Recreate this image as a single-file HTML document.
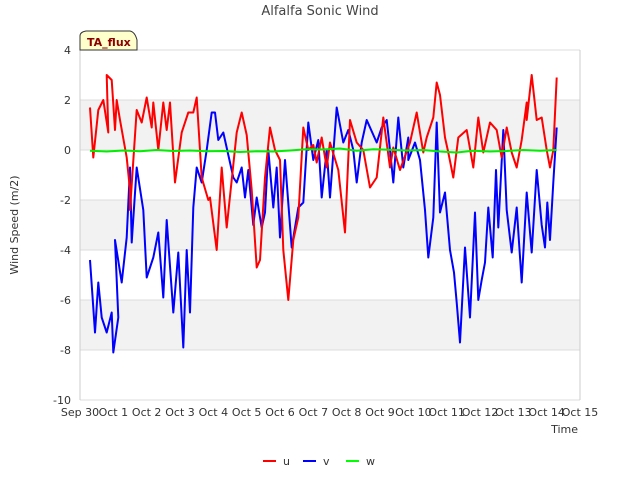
<!DOCTYPE html>
<html><head><meta charset="utf-8"><style>
body{margin:0;background:#fff;font-family:"Liberation Sans","DejaVu Sans",sans-serif}
svg text{font-family:"DejaVu Sans","Liberation Sans",sans-serif}
</style></head><body>
<svg id="c" width="640" height="480" viewBox="0 0 640 480" xmlns="http://www.w3.org/2000/svg">
<rect x="0" y="0" width="640" height="480" fill="#fff"/>
<g id="bands"></g><g id="grid"></g><g id="series"></g><g id="axes"></g>
<text x="320" y="15" text-anchor="middle" font-size="13" fill="#444">Alfalfa Sonic Wind</text>
<text transform="translate(18,225) rotate(-90)" text-anchor="middle" font-size="11" fill="#333">Wind Speed (m/2)</text>
<text x="578" y="433" text-anchor="end" font-size="11" fill="#333">Time</text>
<g>
<path d="M80,50 L80,36 Q80,32 86,31 L130,31 Q135,32 137,40 L137,50 Z" fill="#ffffcc" stroke="#333" stroke-width="1"/>
<text x="87" y="46" font-size="11" font-weight="bold" fill="#8b0000">TA_flux</text>
</g>
<g>
<g><line x1="263" y1="461" x2="276" y2="461" stroke="#f00" stroke-width="2"/><text x="283" y="465" font-size="11" fill="#333">u</text></g>
<g><line x1="303" y1="461" x2="316" y2="461" stroke="#00f" stroke-width="2"/><text x="323" y="465" font-size="11" fill="#333">v</text></g>
<g><line x1="346" y1="461" x2="359" y2="461" stroke="#0f0" stroke-width="2"/><text x="366" y="465" font-size="11" fill="#333">w</text></g>
</g>
</svg>
<script>
const yTicks=[4,2,0,-2,-4,-6,-8,-10];
const xTickLabels=["Sep 30","Oct 1","Oct 2","Oct 3","Oct 4","Oct 5","Oct 6","Oct 7","Oct 8","Oct 9","Oct 10","Oct 11","Oct 12","Oct 13","Oct 14","Oct 15"];
const uDays=[0.3,0.4,0.55,0.7,0.85,0.8,0.95,1.05,1.1,1.2,1.4,1.5,1.5,1.7,1.85,2.0,2.15,2.2,2.35,2.5,2.6,2.7,2.85,3.05,3.25,3.4,3.5,3.65,3.85,3.9,4.1,4.25,4.4,4.7,4.85,5.0,5.15,5.3,5.4,5.55,5.7,5.85,6.0,6.1,6.25,6.4,6.55,6.7,6.85,7.0,7.1,7.25,7.4,7.5,7.75,7.95,8.1,8.3,8.5,8.7,8.9,9.1,9.3,9.4,9.6,9.9,10.1,10.3,10.4,10.6,10.7,10.8,10.95,11.05,11.2,11.35,11.6,11.8,11.95,12.1,12.3,12.5,12.65,12.8,12.95,13.1,13.25,13.4,13.4,13.55,13.7,13.85,14.0,14.1,14.2,14.3];
const uVals=[1.7,-0.3,1.6,2.0,0.7,3.0,2.8,0.8,2.0,1.2,-0.3,-1.6,-2.4,1.6,1.1,2.1,0.9,1.9,0.0,1.9,0.8,1.9,-1.3,0.7,1.5,1.5,2.1,-1.1,-2.0,-1.9,-4.0,-0.7,-3.1,0.7,1.5,0.6,-1.6,-4.7,-4.4,-1.1,0.9,0.0,-0.4,-4.0,-6.0,-3.6,-2.7,0.9,0.0,0.2,-0.5,0.5,-0.7,0.3,-0.8,-3.3,1.2,0.3,0.0,-1.5,-1.1,1.3,-0.7,0.1,-0.8,0.3,1.5,-0.1,0.5,1.3,2.7,2.2,0.5,-0.1,-1.1,0.5,0.8,-0.7,1.3,-0.1,1.1,0.8,-0.3,0.9,-0.1,-0.7,0.4,1.9,1.2,3.0,1.2,1.3,0.0,-0.7,0.0,2.9,1.2];
const vDays=[0.3,0.45,0.55,0.65,0.8,0.95,1.0,1.15,1.05,1.25,1.4,1.5,1.55,1.7,1.9,2.0,2.2,2.35,2.5,2.6,2.8,2.95,3.1,3.2,3.3,3.4,3.5,3.65,3.8,3.95,4.05,4.15,4.3,4.5,4.6,4.7,4.85,4.95,5.05,5.2,5.3,5.45,5.55,5.65,5.8,5.9,6.0,6.15,6.35,6.55,6.7,6.85,7.0,7.15,7.25,7.4,7.5,7.7,7.9,8.05,8.2,8.3,8.45,8.6,8.9,9.05,9.2,9.3,9.3,9.4,9.55,9.7,9.85,9.85,10.05,10.2,10.35,10.45,10.6,10.7,10.8,10.95,11.1,11.22,11.3,11.4,11.55,11.7,11.85,11.95,12.05,12.15,12.25,12.38,12.48,12.55,12.7,12.8,12.95,13.1,13.25,13.4,13.55,13.7,13.85,13.95,14.02,14.1,14.2,14.3];
const vVals=[-4.4,-7.3,-5.3,-6.7,-7.3,-6.5,-8.1,-6.7,-3.6,-5.3,-3.5,-0.7,-3.7,-0.7,-2.4,-5.1,-4.3,-3.3,-5.9,-2.8,-6.5,-4.1,-7.9,-4.0,-6.5,-2.3,-0.7,-1.3,0.0,1.5,1.5,0.4,0.7,-0.5,-1.1,-1.3,-0.7,-1.9,-0.8,-3.0,-1.9,-3.1,-2.5,0.0,-2.3,-0.7,-3.5,-0.4,-3.9,-2.3,-2.1,1.1,-0.4,0.4,-1.9,0.0,-1.9,1.7,0.3,0.8,0.0,-1.3,0.3,1.2,0.3,0.9,1.2,0.0,0.0,-1.3,1.3,-0.7,0.5,-0.4,0.3,-0.4,-2.4,-4.3,-2.7,1.1,-2.5,-1.7,-4.0,-4.9,-6.1,-7.7,-3.9,-6.7,-2.5,-6.0,-5.2,-4.5,-2.3,-4.3,-0.8,-3.1,0.8,-2.4,-4.1,-2.3,-5.3,-1.7,-4.1,-0.8,-3.0,-3.9,-2.1,-3.6,-1.3,0.9,-3.3,0.3];
const wDays=[0.3,0.8,1.3,1.8,2.3,2.8,3.3,3.8,4.3,4.8,5.3,5.8,6.3,6.8,7.3,7.8,8.3,8.8,9.3,9.8,10.3,10.8,11.3,11.8,12.3,12.8,13.3,13.8,14.3];
const wVals=[-0.03,-0.06,-0.02,-0.05,0.0,-0.04,-0.02,-0.05,-0.04,-0.08,-0.05,-0.06,-0.02,0.03,0.02,0.06,-0.03,0.03,0.01,-0.02,0.0,-0.06,-0.1,-0.03,-0.06,-0.04,0.0,-0.03,0.0];

const NS="http://www.w3.org/2000/svg";
const X0=80,X1=580,Y0=50,Y1=400,DMAX=15,VMIN=-10,VMAX=4;
const xs=d=>X0+(X1-X0)*d/DMAX;
const ys=v=>Y0+(Y1-Y0)*(VMAX-v)/(VMAX-VMIN);
function mk(tag,attrs,parent){const e=document.createElementNS(NS,tag);for(const k in attrs)e.setAttribute(k,attrs[k]);parent.appendChild(e);return e;}
const bands=document.getElementById('bands'),grid=document.getElementById('grid'),axes=document.getElementById('axes'),series=document.getElementById('series');
[[2,0],[-2,-4],[-6,-8]].forEach(b=>{
 const r=mk('rect',{x:X0,y:ys(b[0]),width:X1-X0,height:ys(b[1])-ys(b[0]),fill:'#f2f2f2'},bands);
 
 
});
yTicks.forEach(t=>{
 const l=mk('line',{x1:X0,x2:X1,y1:ys(t),y2:ys(t),stroke:'#dcdcdc','stroke-width':1},grid);
 
 
 const tx=mk('text',{x:X0-9,y:ys(t)+4,'text-anchor':'end','font-size':11,fill:'#333'},axes);
 tx.textContent=t;
 
 
});
mk('line',{x1:X0,x2:X0,y1:Y0,y2:Y1,stroke:'#ccc'},grid);
mk('line',{x1:X1,x2:X1,y1:Y0,y2:Y1,stroke:'#ccc'},grid);
xTickLabels.forEach((s,i)=>{
 const tx=mk('text',{x:xs(i),y:Y1+16,'text-anchor':'middle','font-size':11,fill:'#333'},axes);
 tx.textContent=s;
 
 
});
function line(days,vals,color,name){
 const d=days.map((t,i)=>(i?'L':'M')+xs(t).toFixed(1)+','+ys(vals[i]).toFixed(1)).join(' ');
 const p=mk('path',{d:d,fill:'none',stroke:color,'stroke-width':2,'stroke-linejoin':'round'},series);
 
 
}
line(vDays,vVals,'#0000ff','series-v-line');
line(uDays,uVals,'#ff0000','series-u-line');
line(wDays,wVals,'#00ee00','series-w-line');
</script>
</body></html>
